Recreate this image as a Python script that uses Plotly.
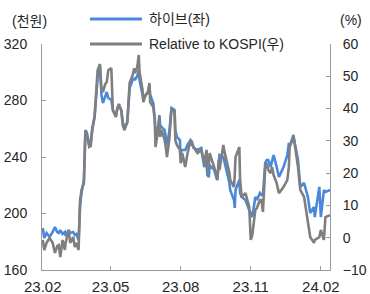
import plotly.graph_objects as go

dates = [
    "2023-02-01", "2023-02-03", "2023-02-06", "2023-02-08", "2023-02-10", "2023-02-14",
    "2023-02-17", "2023-02-20", "2023-02-22", "2023-02-24", "2023-02-27", "2023-03-02",
    "2023-03-03", "2023-03-07", "2023-03-09", "2023-03-13", "2023-03-15", "2023-03-17",
    "2023-03-20", "2023-03-22", "2023-03-24", "2023-03-27", "2023-03-28", "2023-03-29",
    "2023-03-31", "2023-04-03", "2023-04-05", "2023-04-07", "2023-04-10", "2023-04-12",
    "2023-04-14", "2023-04-17", "2023-04-19", "2023-04-21", "2023-04-24", "2023-04-26",
    "2023-04-28", "2023-05-02", "2023-05-04", "2023-05-08", "2023-05-10", "2023-05-12",
    "2023-05-15", "2023-05-17", "2023-05-19", "2023-05-23", "2023-05-25", "2023-05-26",
    "2023-05-30", "2023-06-01", "2023-06-02", "2023-06-05", "2023-06-07", "2023-06-08",
    "2023-06-12", "2023-06-13", "2023-06-16", "2023-06-19", "2023-06-21", "2023-06-22",
    "2023-06-26", "2023-06-28", "2023-06-29", "2023-07-03", "2023-07-04", "2023-07-05",
    "2023-07-07", "2023-07-11", "2023-07-13", "2023-07-14", "2023-07-17", "2023-07-19",
    "2023-07-20", "2023-07-24", "2023-07-25", "2023-07-27", "2023-07-31", "2023-08-01",
    "2023-08-02", "2023-08-03", "2023-08-07", "2023-08-10", "2023-08-14", "2023-08-16",
    "2023-08-18", "2023-08-23", "2023-08-28", "2023-09-01", "2023-09-04", "2023-09-05",
    "2023-09-07", "2023-09-08", "2023-09-14", "2023-09-18", "2023-09-20", "2023-09-21",
    "2023-09-26", "2023-09-27", "2023-10-04", "2023-10-05", "2023-10-10", "2023-10-11",
    "2023-10-12", "2023-10-17", "2023-10-18", "2023-10-20", "2023-10-25", "2023-10-30",
    "2023-11-01", "2023-11-03", "2023-11-07", "2023-11-09", "2023-11-13", "2023-11-15",
    "2023-11-17", "2023-11-20", "2023-11-22", "2023-11-24", "2023-11-27", "2023-11-29",
    "2023-12-01", "2023-12-05", "2023-12-08", "2023-12-14", "2023-12-19", "2023-12-21",
    "2023-12-22", "2023-12-27", "2023-12-28", "2024-01-02", "2024-01-05", "2024-01-10",
    "2024-01-15", "2024-01-18", "2024-01-23", "2024-01-24", "2024-01-30", "2024-02-01",
    "2024-02-05", "2024-02-07", "2024-02-13",
]

hybe_price = [
    189.7, 182.7, 186.2, 184.8, 183.4, 186.9,
    190.4, 186.9, 186.2, 188.3, 185.5, 186.9,
    184.1, 188.3, 186.2, 186.9, 184.8, 185.5,
    181.2, 206.0, 215.2, 223.7, 252.0, 259.1,
    257.0, 248.5, 250.6, 260.5, 268.3, 280.4,
    295.9, 305.1, 283.9, 278.2, 283.2, 286.0,
    281.8, 280.4, 273.3, 269.0, 274.7, 276.1,
    273.3, 264.8, 260.5, 264.8, 280.4, 288.9,
    294.5, 295.9, 294.5, 297.4, 301.6, 294.5,
    283.9, 280.4, 283.9, 286.0, 290.3, 283.9,
    278.2, 267.6, 255.6, 262.7, 269.7, 262.7,
    261.2, 259.1, 252.0, 248.5, 257.7, 271.9,
    274.7, 273.3, 259.1, 254.2, 252.0, 240.0,
    245.0, 245.0, 245.0, 248.5, 252.0, 250.6,
    246.4, 245.0, 246.4, 232.9, 237.9, 227.3,
    225.8, 234.3, 230.8, 223.7, 234.3, 241.4,
    240.0, 237.9, 221.6, 216.6, 209.6, 203.9,
    216.6, 223.7, 214.5, 211.7, 209.6, 202.5,
    200.4, 197.5, 211.7, 209.6, 214.5, 213.1,
    213.1, 235.8, 237.9, 237.9, 232.9, 237.9,
    241.4, 232.9, 225.8, 232.9, 241.4, 249.9,
    247.1, 255.6, 252.0, 237.9, 218.8, 221.6,
    211.7, 200.4, 204.6, 197.5, 218.8, 197.5,
    216.6, 215.2, 216.6,
]

relative_to_kospi = [
    -0.7, -3.8, -1.6, -0.7, -0.1, -1.6,
    -4.7, -2.6, -2.3, -6.0, -0.7, -3.8,
    -1.6, 2.4, -1.6, 0.2, -2.9, -1.6,
    -3.8, 11.7, 14.8, 16.9, 29.6, 33.3,
    31.8, 28.1, 28.4, 33.3, 37.4, 43.3,
    51.9, 53.8, 46.3, 45.1, 47.6, 48.2,
    51.9, 52.5, 39.5, 37.4, 40.2, 41.4,
    39.5, 34.9, 33.3, 35.8, 44.2, 47.9,
    50.4, 52.5, 51.0, 52.8, 56.6, 51.3,
    45.7, 42.0, 44.2, 44.8, 47.9, 42.0,
    40.5, 36.4, 28.1, 34.3, 37.4, 31.2,
    33.3, 30.2, 27.2, 25.0, 30.2, 36.4,
    40.2, 38.9, 30.2, 28.7, 27.2, 23.1,
    24.1, 26.2, 21.9, 26.2, 30.2, 28.7,
    28.1, 26.2, 27.2, 23.1, 27.2, 20.0,
    22.5, 26.2, 21.9, 17.9, 24.1, 21.0,
    28.7, 27.2, 20.0, 17.9, 15.7, 19.4,
    25.0, 28.1, 17.9, 12.6, 13.8, 9.5,
    -0.7, 0.8, 8.6, 9.2, 11.7, 11.7,
    8.0, 21.9, 23.1, 21.0, 20.0, 21.9,
    19.4, 16.9, 13.8, 15.7, 17.9, 21.9,
    28.1, 31.2, 30.2, 21.9, 14.8, 12.6,
    5.5, 0.2, -1.6, -0.7, 0.2, 2.4,
    -0.7, 6.4, 7.0,
]

x_tick_dates = ["2023-02-01", "2023-05-01", "2023-08-01", "2023-11-01", "2024-02-01"]
x_tick_text = ["23.02", "23.05", "23.08", "23.11", "24.02"]
left_ticks = [160, 200, 240, 280, 320]
right_ticks = [-10, 0, 10, 20, 30, 40, 50, 60]
right_tick_text = ["\u221210", "0", "10", "20", "30", "40", "50", "60"]

name_hybe = "하이브(좌)"
name_rel = "Relative to KOSPI(우)"

BLUE = "#4a88dc"
GREY = "#7f7f7f"
AXIS = "#9a9a9a"
TXT = "#262626"
FONT = "Liberation Sans, Arial, Noto Sans CJK KR, sans-serif"

fig = go.Figure()
fig.add_trace(go.Scatter(x=dates, y=hybe_price, name=name_hybe, mode="lines",
                         line=dict(color=BLUE, width=2.6), yaxis="y"))
fig.add_trace(go.Scatter(x=dates, y=relative_to_kospi, name=name_rel, mode="lines",
                         line=dict(color=GREY, width=2.6), yaxis="y2"))

fig.update_layout(
    width=370, height=294,
    margin=dict(l=42, r=40, t=44, b=24, autoexpand=False),
    paper_bgcolor="white", plot_bgcolor="white",
    showlegend=False,
    font=dict(family=FONT, size=14, color=TXT),
    xaxis=dict(
        type="date", range=["2023-01-31", "2024-02-13"],
        tickvals=x_tick_dates, ticktext=x_tick_text,
        showgrid=False, zeroline=False, automargin=False,
        showline=True, linecolor=AXIS, linewidth=1,
        ticks="inside", ticklen=4, tickcolor=AXIS,
        tickfont=dict(size=15, color=TXT), ticklabelstandoff=3,
    ),
    yaxis=dict(
        range=[160, 320], tickvals=left_ticks,
        showgrid=False, zeroline=False, automargin=False,
        showline=True, linecolor=AXIS, linewidth=1,
        ticks="inside", ticklen=4, tickcolor=AXIS,
        tickfont=dict(size=14, color=TXT), ticklabelstandoff=11,
    ),
    yaxis2=dict(
        range=[-10, 60], tickvals=right_ticks, ticktext=right_tick_text,
        overlaying="y", side="right",
        showgrid=False, zeroline=False, automargin=False,
        showline=True, linecolor=AXIS, linewidth=1,
        ticks="inside", ticklen=4, tickcolor=AXIS,
        tickfont=dict(size=14, color=TXT), ticklabelstandoff=9,
    ),
)

# unit labels
fig.add_annotation(text="(천원)", xref="paper", yref="paper", x=-0.045, y=1.102,
                   xanchor="center", yanchor="middle", showarrow=False,
                   font=dict(size=14, color=TXT))
fig.add_annotation(text="(%)", xref="paper", yref="paper", x=1.073, y=1.106,
                   xanchor="center", yanchor="middle", showarrow=False,
                   font=dict(size=14, color=TXT))

# legend drawn manually
for yy, col, label in [(1.1106, BLUE, name_hybe), (1.0, GREY, name_rel)]:
    fig.add_shape(type="line", xref="paper", yref="paper", x0=0.1667, x1=0.347,
                  y0=yy, y1=yy, line=dict(color=col, width=3))
    fig.add_annotation(text=label, xref="paper", yref="paper", x=0.365, y=yy,
                       xanchor="left", yanchor="middle", showarrow=False,
                       font=dict(size=14, color=TXT))

# remove the browser's default body margin so the figure sits at the page origin
fig.write_html("out.html",
               config={"displayModeBar": False, "staticPlot": True},
               post_script="document.body.style.margin='0';document.body.style.padding='0';")
